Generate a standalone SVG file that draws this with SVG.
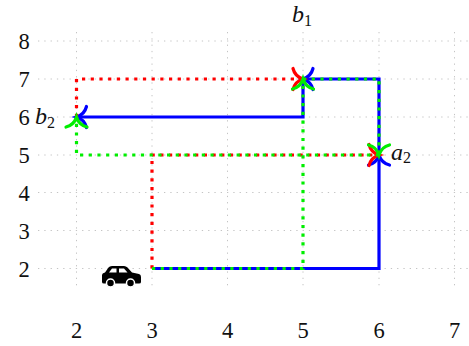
<svg xmlns="http://www.w3.org/2000/svg" width="469" height="346" viewBox="0 0 469 346">
<style>
text{font-family:"Liberation Serif",serif;fill:#111}
.t{font-size:22.500px;text-anchor:middle}
.m{font-size:24px;font-style:italic}
.s{font-size:16px;font-style:normal}
.g{fill:none;stroke:#c4c4c4;stroke-width:1;stroke-dasharray:1.300 5}
.l{fill:none;stroke-width:3.200}
.dot{stroke-dasharray:3.200 5.500}
.tip{fill:none;stroke-width:3.200;stroke-linecap:round}
</style>
<defs>
<path id="h" d="M-10,-10.500Q-8,-2.500 0,0Q-8,2.500 -10,10.500"/>
</defs>
<g id="grid" class="g">
<path d="M38,41H469M38,79H469M38,117H469M38,155H469M38,192.500H469M38,230.500H469M38,268.500H469"/>
<path d="M76.500,32V288M152,32V288M227.500,32V288M303,32V288M379,32V288M454.500,32V288"/>
</g>
<g id="connectors">
<g stroke="#0000ff">
<path class="l" d="M152,268.500H379V155"/>
<path class="l" d="M379,155V79H303"/>
<path class="l" d="M303,79V117H76.500"/>
<use href="#h" class="tip" transform="translate(379,155) rotate(-90)"/>
<use href="#h" class="tip" transform="translate(303,79) rotate(180)"/>
<use href="#h" class="tip" transform="translate(76.500,117) rotate(180)"/>
</g>
<g stroke="#ff0000">
<path class="l dot" d="M152,268.500V155H379"/>
<path class="l dot" d="M76.500,117V79H303"/>
<use href="#h" class="tip" transform="translate(379,155)"/>
<use href="#h" class="tip" transform="translate(303,79)"/>
</g>
<g stroke="#00ee00">
<path class="l dot" d="M152,268.500H303V79"/>
<path class="l dot" d="M303,79H379V155"/>
<path class="l dot" d="M379,155H76.500V117"/>
<use href="#h" class="tip" transform="translate(303,79) rotate(-90)"/>
<use href="#h" class="tip" transform="translate(379,155) rotate(90)"/>
<use href="#h" class="tip" transform="translate(76.500,117) rotate(-90)"/>
</g>
</g>
<g id="axis-y" class="t">
<text x="24" y="49">8</text><text x="24" y="87">7</text><text x="24" y="125">6</text><text x="24" y="163">5</text><text x="24" y="200.500">4</text><text x="24" y="238.500">3</text><text x="24" y="276.500">2</text>
</g>
<g id="axis-x" class="t">
<text x="76.500" y="337.500">2</text><text x="152" y="337.500">3</text><text x="227.500" y="337.500">4</text><text x="303" y="337.500">5</text><text x="379" y="337.500">6</text><text x="454.500" y="337.500">7</text>
</g>
<g id="label-b1"><text class="m" x="292" y="22">b<tspan class="s" dy="4">1</tspan></text></g>
<g id="label-b2"><text class="m" x="35" y="124">b<tspan class="s" dy="4">2</tspan></text></g>
<g id="label-a2"><text class="m" x="391" y="160">a<tspan class="s" dy="3">2</tspan></text></g>
<g id="car">
<path fill="#000" d="M102,275.500Q102,273 105,272.500L108.500,267.500Q109.500,266 112,266H124Q126,266 127.500,267.500L132,272.500L139,274Q141,274.500 141,277V282Q141,283.500 139,283.500H104Q102,283.500 102,282Z"/>
<path fill="#fff" d="M109,272.500L112,268.500H116.500V272.500ZM119,268.500H124L127.500,272.500H119Z"/>
<circle cx="110.500" cy="283" r="4" fill="#000" stroke="#fff" stroke-width="1.500"/>
<circle cx="130.500" cy="283" r="4" fill="#000" stroke="#fff" stroke-width="1.500"/>
</g>
</svg>
